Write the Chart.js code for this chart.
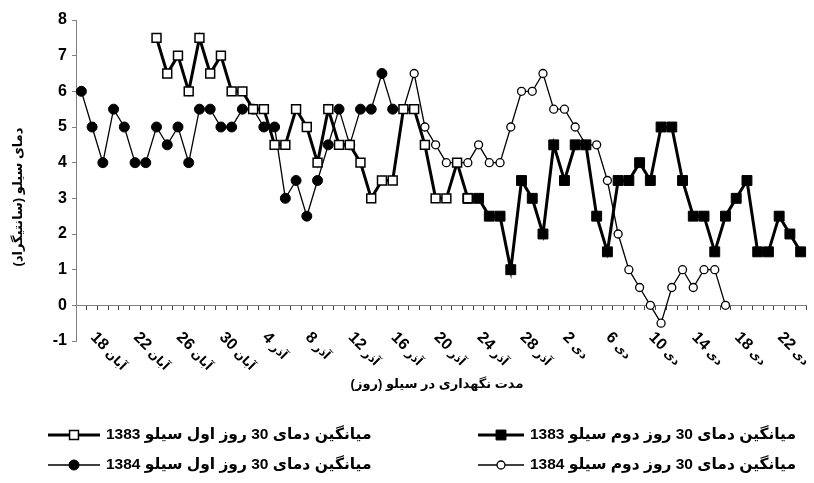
<!DOCTYPE html>
<html><head><meta charset="utf-8">
<script src="https://cdn.jsdelivr.net/npm/chart.js@4/dist/chart.umd.min.js"></script>
<style>html,body{margin:0;padding:0;background:#fff}#wrap{width:814px;height:483px;position:relative}canvas{display:block}</style>
</head><body><div id="wrap"><canvas id="c" width="814" height="483"></canvas></div>
<script>
// Daily categories: 17 Aban .. 24 Dey
const categories = [
 '17 آبان','18 آبان','19 آبان','20 آبان','21 آبان','22 آبان','23 آبان','24 آبان','25 آبان','26 آبان','27 آبان','28 آبان','29 آبان','30 آبان',
 '1 آذر','2 آذر','3 آذر','4 آذر','5 آذر','6 آذر','7 آذر','8 آذر','9 آذر','10 آذر','11 آذر','12 آذر','13 آذر','14 آذر','15 آذر',
 '16 آذر','17 آذر','18 آذر','19 آذر','20 آذر','21 آذر','22 آذر','23 آذر','24 آذر','25 آذر','26 آذر','27 آذر','28 آذر','29 آذر','30 آذر',
 '1 دی','2 دی','3 دی','4 دی','5 دی','6 دی','7 دی','8 دی','9 دی','10 دی','11 دی','12 دی','13 دی','14 دی','15 دی',
 '16 دی','17 دی','18 دی','19 دی','20 دی','21 دی','22 دی','23 دی','24 دی'
];
const xTickLabels = ['18 آبان','22 آبان','26 آبان','30 آبان','4 آذر','8 آذر','12 آذر','16 آذر','20 آذر','24 آذر','28 آذر',
 '2 دی','6 دی','10 دی','14 دی','18 دی','22 دی'];
const yTicks = [-1,0,1,2,3,4,5,6,7,8];

const s1383First = [null,null,null,null,null,null,null,
 7.5,6.5,7,6,7.5,6.5,7,6,6,5.5,5.5,4.5,4.5,5.5,5,4,5.5,4.5,4.5,4,3,3.5,3.5,5.5,5.5,4.5,3,3,4,3,
 null,null,null,null,null,null,null,null,null,null,null,null,null,null,null,null,null,null,null,null,null,null,null,null,null,null,null,null,null,null,null];
const s1383Second = [null,null,null,null,null,null,null,null,null,null,null,null,null,null,null,null,null,null,
 null,null,null,null,null,null,null,null,null,null,null,null,null,null,null,null,null,null,
 3,3,2.5,2.5,1,3.5,3,2,4.5,3.5,4.5,4.5,2.5,1.5,3.5,3.5,4,3.5,5,5,3.5,2.5,2.5,1.5,2.5,3,3.5,1.5,1.5,2.5,2,1.5];
const s1384First = [6,5,4,5.5,5,4,4,5,4.5,5,4,5.5,5.5,5,5,5.5,5.5,5,5,3,3.5,2.5,3.5,4.5,5.5,4.5,5.5,5.5,6.5,5.5,
 null,null,null,null,null,null,null,null,null,null,null,null,null,null,null,null,null,null,null,
 null,null,null,null,null,null,null,null,null,null,null,null,null,null,null,null,null,null,null];
const s1384Second = [null,null,null,null,null,null,null,null,null,null,null,null,null,null,null,null,null,null,null,null,
 null,null,null,null,null,null,null,null,null,
 5.5,5.5,6.5,5,4.5,4,4,4,4.5,4,4,5,6,6,6.5,5.5,5.5,5,4.5,4.5,3.5,2,1,0.5,0,-0.5,0.5,1,0.5,1,1,0,
 null,null,null,null,null,null,null];

const seriesNames = [
 'میانگین دمای 30 روز اول سیلو 1383',
 'میانگین دمای 30 روز دوم سیلو 1383',
 'میانگین دمای 30 روز اول سیلو 1384',
 'میانگین دمای 30 روز دوم سیلو 1384'
];
const xTitle = 'مدت نگهداری در سیلو (روز)';
const yTitle = 'دمای سیلو (سانتیگراد)';

const LAT = '"Liberation Sans", Arial, "DejaVu Sans", sans-serif';

const datasets = [
 {label: seriesNames[0], data: s1383First, borderColor:'#000', borderWidth:3, pointStyle:'rect', pointRadius:6.3,
  pointBackgroundColor:'#fff', pointBorderColor:'#000', pointBorderWidth:1.5, legendPos:[48,100,106,435]},
 {label: seriesNames[1], data: s1383Second, borderColor:'#000', borderWidth:3, pointStyle:'rect', pointRadius:7,
  pointBackgroundColor:'#000', pointBorderColor:'#000', pointBorderWidth:1, legendPos:[478,524,530,435]},
 {label: seriesNames[2], data: s1384First, borderColor:'#000', borderWidth:1.3, pointStyle:'circle', pointRadius:5,
  pointBackgroundColor:'#000', pointBorderColor:'#000', pointBorderWidth:1, legendPos:[48,100,106,465]},
 {label: seriesNames[3], data: s1384Second, borderColor:'#000', borderWidth:1.3, pointStyle:'circle', pointRadius:4,
  pointBackgroundColor:'#fff', pointBorderColor:'#000', pointBorderWidth:1.3, legendPos:[478,524,530,465]}
];

const customText = {
  id: 'customText',
  afterDraw(chart) {
    const ctx = chart.ctx, xs = chart.scales.x, ca = chart.chartArea;
    ctx.save();
    ctx.fillStyle = '#000';
    // rotated category labels
    categories.forEach((c, i) => {
      if (!xTickLabels.includes(c)) return;
      const parts = c.split(' ');
      const x = xs.getPixelForValue(i);
      ctx.save();
      ctx.translate(x + 1, ca.bottom - 6);
      ctx.rotate(Math.PI / 4);
      ctx.textAlign = 'left'; ctx.textBaseline = 'middle';
      ctx.font = 'bold 16px ' + LAT;
      ctx.fillText(parts[0], 0, 0);
      const w = ctx.measureText(parts[0]).width;
      ctx.font = 'bold 12px "DejaVu Sans", sans-serif';
      ctx.fillText(parts[1], w + 4, 2);
      ctx.restore();
    });
    // axis titles
    ctx.font = 'bold 13px ' + LAT;
    ctx.textAlign = 'center'; ctx.textBaseline = 'middle';
    ctx.fillText(xTitle, 437, 384);
    ctx.save();
    ctx.translate(18, 197);
    ctx.rotate(-Math.PI / 2);
    ctx.fillText(yTitle, 0, 0);
    ctx.restore();
    // legend
    chart.data.datasets.forEach(ds => {
      const [x0, x1, tx, y] = ds.legendPos;
      ctx.beginPath();
      ctx.strokeStyle = ds.borderColor; ctx.lineWidth = ds.borderWidth;
      ctx.moveTo(x0, y); ctx.lineTo(x1, y); ctx.stroke();
      ctx.fillStyle = ds.pointBackgroundColor; ctx.strokeStyle = ds.pointBorderColor;
      ctx.lineWidth = ds.pointBorderWidth;
      Chart.helpers.drawPoint(ctx, {pointStyle: ds.pointStyle, radius: ds.pointRadius, rotation: 0, borderWidth: ds.pointBorderWidth}, (x0 + x1) / 2, y);
      ctx.fillStyle = '#000';
      ctx.font = 'bold 15.5px ' + LAT;
      ctx.textAlign = 'left'; ctx.textBaseline = 'middle';
      ctx.fillText(ds.label, tx, y);
    });
    ctx.restore();
  }
};

new Chart(document.getElementById('c'), {
  type: 'line',
  data: { labels: categories, datasets },
  options: {
    responsive: false, animation: false,
    layout: { padding: { left: 0, right: 7, top: 20, bottom: 142 } },
    elements: { line: { tension: 0 } },
    plugins: { legend: { display: false }, tooltip: { enabled: false } },
    scales: {
      x: {
        type: 'category', offset: true, position: { y: 0 },
        grid: { display: true, drawOnChartArea: false, drawTicks: true, tickLength: 4, offset: true, color: '#444' },
        border: { display: true, color: '#808080', width: 1 },
        ticks: { display: false }
      },
      y: {
        min: -1, max: 8,
        afterBuildTicks(s) { s.ticks = yTicks.map(v => ({ value: v })); },
        ticks: { font: { family: LAT, size: 16, weight: 'bold' }, color: '#000', padding: 5 },
        grid: { drawOnChartArea: false, tickLength: 4, color: '#808080' },
        border: { color: '#808080' },
        afterFit(s) { s.width = 76; }
      }
    }
  },
  plugins: [customText]
});
</script>
</body></html>
